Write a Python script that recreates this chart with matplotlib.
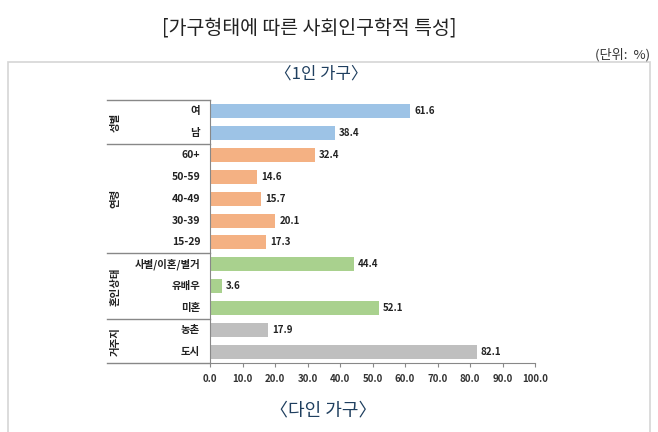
import matplotlib
matplotlib.use("Agg")
import matplotlib.pyplot as plt
from matplotlib.patches import Rectangle

plt.rcParams['font.family'] = ['Noto Sans CJK KR', 'DejaVu Sans']

# data
labels = ['여', '남', '60+', '50-59', '40-49', '30-39', '15-29',
          '사별/이혼/별거', '유배우', '미혼', '농촌', '도시']
values = [61.6, 38.4, 32.4, 14.6, 15.7, 20.1, 17.3, 44.4, 3.6, 52.1, 17.9, 82.1]
groups = ['성별', '연령', '혼인상태', '거주지']
group_sizes = [2, 5, 3, 2]
group_colors = ['#9DC3E6', '#F4B183', '#A9D18E', '#BFBFBF']
xticks = [0, 10, 20, 30, 40, 50, 60, 70, 80, 90, 100]

W, H = 658, 432
fig = plt.figure(figsize=(W / 100, H / 100), dpi=100)

def fx(px):
    return px / W

def fy(py):
    return 1 - py / H

# outer frame
fig.patches.append(Rectangle((fx(8), fy(440)), fx(642), (440 - 62) / H,
                             transform=fig.transFigure, fill=False,
                             edgecolor='#D5D5D5', linewidth=1.2))

fig.text(fx(309), fy(28), '[가구형태에 따른 사회인구학적 특성]', ha='center', va='center',
         fontsize=14, color='#222222', fontweight='light')
fig.text(fx(650), fy(55), '(단위:  %)', ha='right', va='center', fontsize=9.5, color='#333333')
fig.text(fx(321), fy(74), '〈1인 가구〉', ha='center', va='center', fontsize=12, color='#1F3F5F')
fig.text(fx(323), fy(410), '〈다인 가구〉', ha='center', va='center', fontsize=13, color='#1F3F5F')

ax = fig.add_axes([fx(210), fy(363), fx(325), (363 - 100) / H])

colors = []
for c, n in zip(group_colors, group_sizes):
    colors += [c] * n

ypos = list(range(len(labels)))
ax.barh(ypos, values, height=0.64, color=colors)
for y, v in zip(ypos, values):
    ax.text(v + 1.2, y, f'{v:.1f}', va='center', ha='left', fontsize=7,
            fontweight='bold', color='#222222')

ax.set_xlim(0, 100)
ax.set_ylim(len(labels) - 0.5, -0.5)
ax.set_xticks(xticks)
ax.set_xticklabels([f'{t:.1f}' for t in xticks], fontsize=7, fontweight='bold', color='#333333')
ax.tick_params(axis='x', length=3, color='#888888', pad=5)
ax.set_yticks([])
for s in ['top', 'right']:
    ax.spines[s].set_visible(False)
ax.spines['left'].set_color('#888888')
ax.spines['bottom'].set_color('#888888')

# category labels and group labels
tr = ax.get_yaxis_transform()
for y, lab in zip(ypos, labels):
    ax.text(-0.03, y, lab, transform=tr, ha='right', va='center', fontsize=7.5,
            fontweight='bold', color='#222222')

lx0 = -103 / 325
start = 0
line_ys = [-0.5]
for g, n in zip(groups, group_sizes):
    mid = start + (n - 1) / 2
    ax.text(-0.29, mid, g, transform=tr, ha='center', va='center', rotation=90,
            fontsize=7.5, fontweight='bold', color='#222222')
    start += n
    line_ys.append(start - 0.5)
for ly in line_ys:
    ax.plot([lx0, 0], [ly, ly], transform=tr, color='#888888', linewidth=1, clip_on=False)

fig.savefig('out.png', dpi=100)
